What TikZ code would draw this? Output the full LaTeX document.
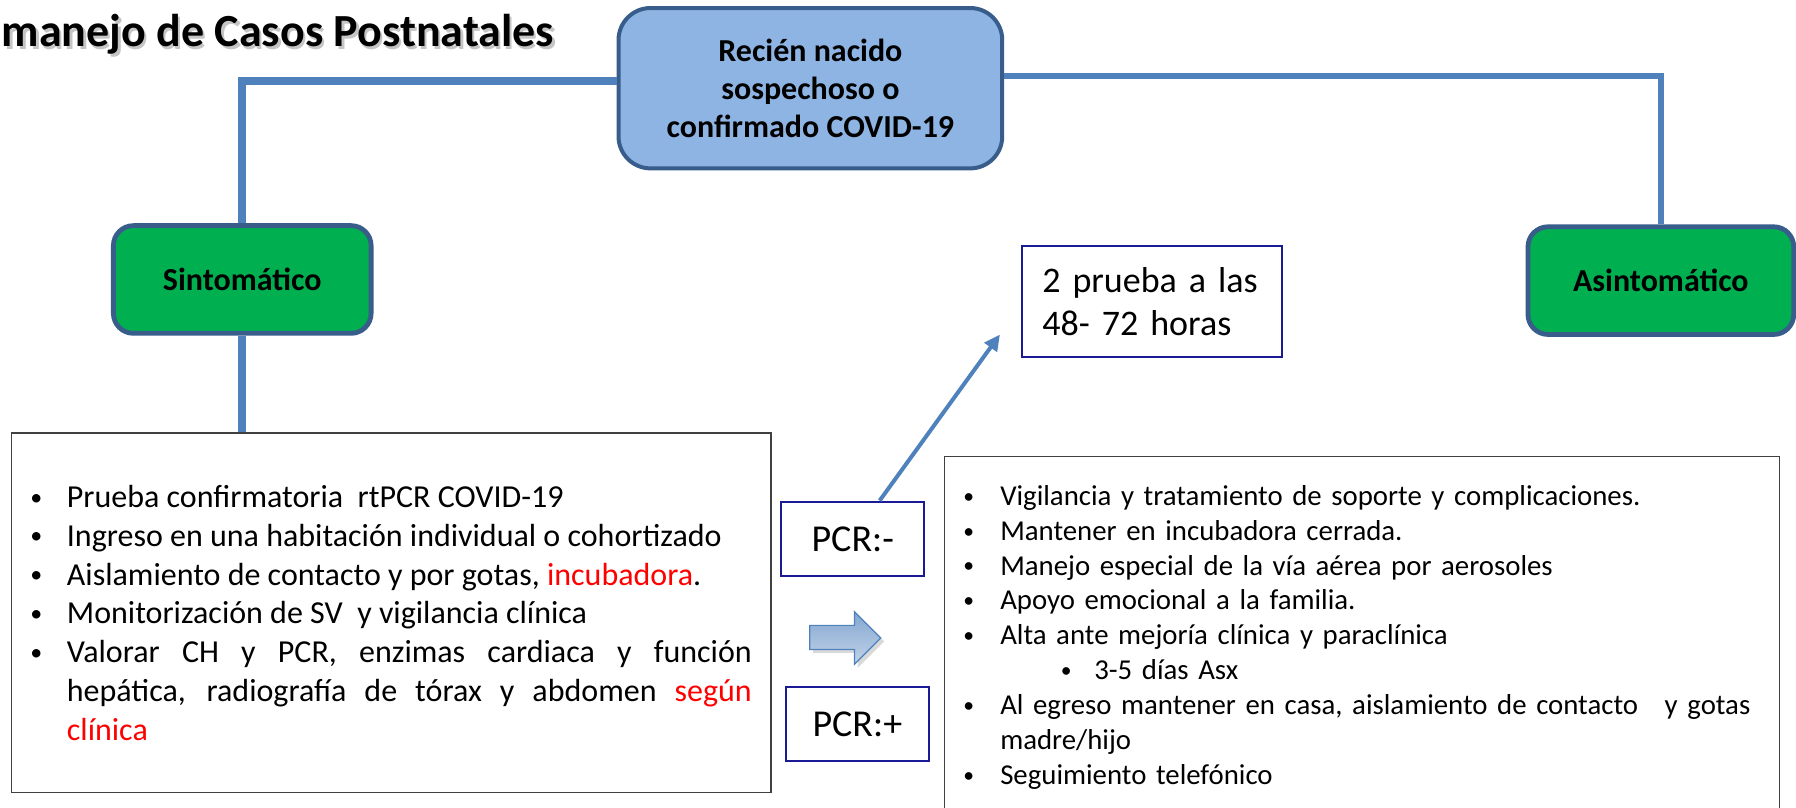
\documentclass[tikz,border=0pt]{standalone}
\usepackage{fontspec}
\usepackage{graphicx}
\setmainfont{Carlito}
\usetikzlibrary{arrows.meta,calc}
\definecolor{connblue}{HTML}{4F81BD}
\definecolor{bordblue}{HTML}{385D8A}
\definecolor{lblue}{HTML}{8EB4E3}
\definecolor{ggreen}{HTML}{00B050}
\definecolor{navyb}{RGB}{26,26,150}
\definecolor{bgray}{HTML}{404040}
\definecolor{redt}{HTML}{FF0000}
\newcommand{\U}{0.5727pt}
\newcommand{\smbul}{\hspace*{-0.17em}\raisebox{0.07em}{\scalebox{0.75}{•}}}
\newcommand{\bulL}[1]{\hangindent=15.5pt\hangafter=1\noindent\makebox[15.5pt][l]{\smbul}#1\par}
\newcommand{\bulR}[1]{\hangindent=16pt\hangafter=1\noindent\makebox[16pt][l]{\smbul}#1\par}
\tikzset{
  mainbox/.style={draw=bordblue, line width=2pt, fill=lblue, rounded corners=16pt,
    minimum width=335*\U, minimum height=140*\U, align=center, inner sep=0pt,
    font=\bfseries\fontsize{16}{18.9}\selectfont},
  greenbox/.style={draw=bordblue, line width=2.4pt, fill=ggreen, rounded corners=10pt,
    minimum height=94*\U, inner sep=0pt, font=\bfseries\fontsize{16}{19}\selectfont},
  pcrbox/.style={draw=navyb, line width=1.1pt, fill=white, minimum width=125*\U,
    minimum height=65*\U, inner sep=0pt, font=\fontsize{19}{22}\selectfont},
  listbox/.style={draw=bgray, line width=0.7pt, fill=white, inner sep=0pt},
  listtext/.style={inner sep=0pt, anchor=base west},
  connline/.style={draw=connblue, line width=4pt},
}
\begin{document}
\begin{tikzpicture}[x=0.5727pt, y=-0.5727pt]
\useasboundingbox (0,0) rectangle (1568,705);
\clip (0,0) rectangle (1568,705);
\fill[white] (0,0) rectangle (1568,705);

% title with shadow
\node[inner sep=0pt, anchor=base east, text=black!45, opacity=0.5,
      font=\bfseries\fontsize{23}{27}\selectfont] (titleshadow) at (486,43) {manejo de Casos Postnatales};
\node[inner sep=0pt, anchor=base east,
      font=\bfseries\fontsize{23}{27}\selectfont] (title) at (484,41) {manejo de Casos Postnatales};

% main nodes
\node[mainbox] (cen) at (707.5,77) {Recién nacido\\sospechoso o\\confirmado COVID-19};
\node[greenbox, minimum width=225*\U] (sint) at (211.5,244) {Sintomático};
\node[greenbox, minimum width=232*\U] (asin) at (1450,245) {Asintomático};

\node[listbox, minimum width=663*\U, minimum height=314*\U] (lbox) at (341.5,535) {};
\node[listbox, minimum width=729*\U, minimum height=330*\U, anchor=north west] (rbox) at (824,398) {};

\node[draw=navyb, line width=1.1pt, fill=white, inner xsep=18*\U, inner ysep=0pt,
      minimum width=227*\U, minimum height=97*\U, anchor=north west, align=left,
      text width=191*\U, font=\fontsize{18}{21.8}\selectfont] (prueba) at (891,214)
      {2 prueba a las\\48- 72 horas};

\node[pcrbox] (pcrm) at (744.5,470.5) {PCR:-};
\node[pcrbox] (pcrp) at (748.5,632) {PCR:+};

% connectors
\draw[connline] (cen.west |- 0,71) -| (sint.north);
\draw[connline, line width=3pt] (cen.east |- 0,66) -| (asin.north);
\draw[connline] (sint.south) -- (sint.south |- lbox.north);

\coordinate (aend) at (873,292);
\draw[draw=connblue, line width=2pt, -{Triangle[length=8pt,width=7.5pt]}] (pcrm.north -| 768,0) -- (aend);

% block arrow
\fill[black, opacity=0.15] (710,549) -- (749,549) -- (749,537) -- (772,560) -- (749,583) -- (749,570) -- (710,570) -- cycle;
\shade[top color=connblue!70, bottom color=connblue!35, draw=connblue, line width=0.6pt]
  (707,546) -- (746,546) -- (746,534) -- (769,557) -- (746,580) -- (746,567) -- (707,567) -- cycle;

% list texts
\node[listtext, text width=625*\U, align=justify, font=\fontsize{16}{19.4}\selectfont] (ltext) at (31,443) {%
\bulL{Prueba confirmatoria\ \ rtPCR COVID-19}
\bulL{Ingreso en una habitación individual o cohortizado}
\bulL{Aislamiento de contacto y por gotas, \textcolor{redt}{incubadora}.}
\bulL{Monitorización de SV\ \ y vigilancia clínica}
\bulL{Valorar CH y PCR, enzimas cardiaca y función\linebreak hepática, radiografía de tórax y abdomen \textcolor{redt}{según}\linebreak \textcolor{redt}{clínica}}%
};

\node[listtext, text width=400pt, align=left, font=\fontsize{14.4}{17.47}\selectfont] (rtext) at (845,441) {%
\bulR{Vigilancia y tratamiento de soporte y complicaciones.}
\bulR{Mantener en incubadora cerrada.}
\bulR{Manejo especial de la vía aérea por aerosoles}
\bulR{Apoyo emocional a la familia.}
\bulR{Alta ante mejoría clínica y paraclínica}
\noindent\hspace*{48.7pt}\makebox[14.3pt][l]{\smbul}3-5 días Asx\par
\bulR{\makebox[375pt][l]{Al egreso mantener en casa, aislamiento de contacto\hfill y gotas}\newline madre/hijo}
\bulR{Seguimiento telefónico}%
};
\end{tikzpicture}
\end{document}
